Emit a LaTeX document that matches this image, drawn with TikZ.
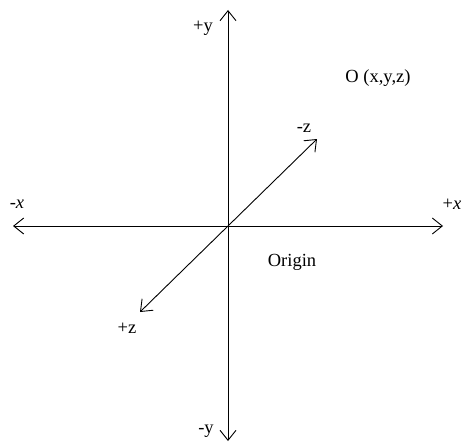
\documentclass[tikz,border=0pt]{standalone}
\usepackage{fontspec}
\setmainfont{Liberation Serif}
\usetikzlibrary{arrows.meta}

\begin{document}
\begin{tikzpicture}[x=1pt,y=-1pt,
  font=\fontsize{18.5}{22}\selectfont,
  ax/.style={{Straight Barb[length=10pt,width=16pt]}-{Straight Barb[length=10pt,width=16pt]},line width=0.9pt},
  lbl/.style={inner sep=0pt}]
  \useasboundingbox (0,0) rectangle (463,444);
  % axis end points
  \coordinate (o) at (228,226);
  \coordinate (xn) at (13,226);
  \coordinate (xp) at (443,226);
  \coordinate (yp) at (228,10);
  \coordinate (yn) at (228,441);
  \coordinate (zn) at (317,139);
  \coordinate (zp) at (140,312);
  \draw[ax] (xn) -- (xp);
  \draw[ax] (yn) -- (yp);
  \draw[ax] (zp) -- (zn);
  % labels
  \node[lbl] (lxn) at (17,204) {-\textit{x}};
  \node[lbl] (lxp) at (452,204) {+\textit{x}};
  \node[lbl] (lyp) at (203,28) {+y};
  \node[lbl] (lyn) at (206,431) {-y};
  \node[lbl] (lzn) at (304,128) {-z};
  \node[lbl] (lzp) at (127,328) {+z};
  \node[lbl] (pt) at (378,78) {O (x,y,z)};
  \node[lbl] (org) at (292,262) {Origin};
\end{tikzpicture}
\end{document}
